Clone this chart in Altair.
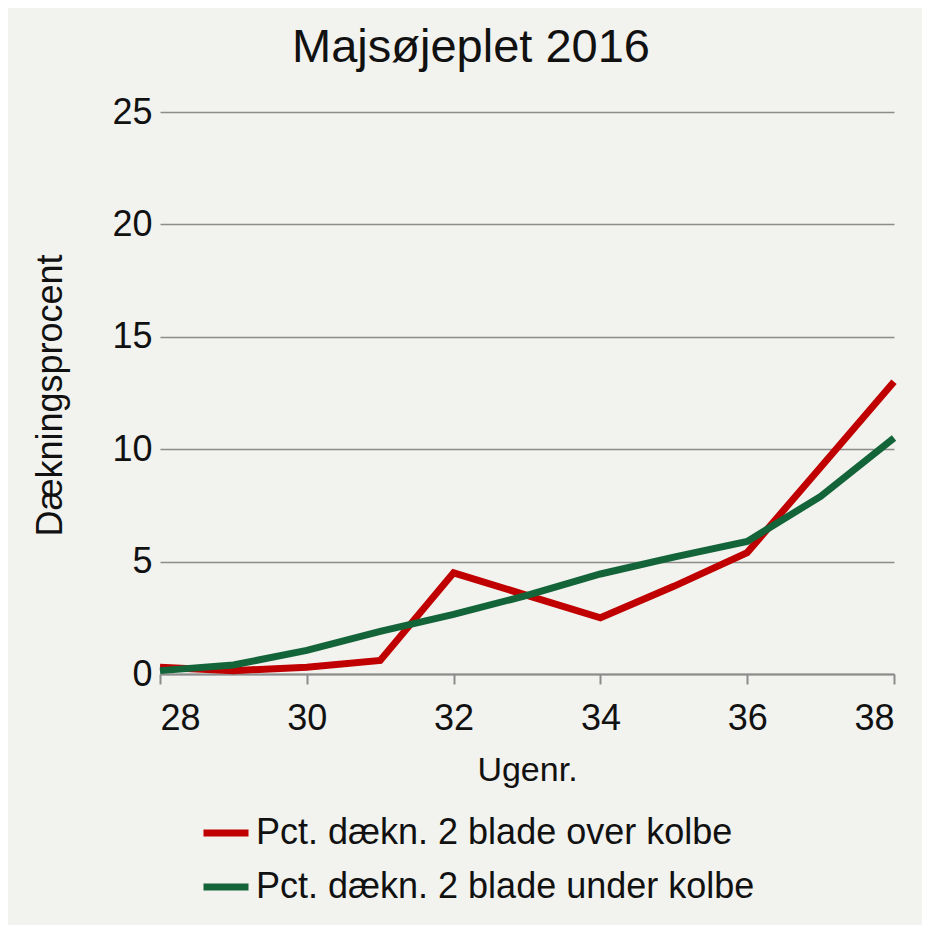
import altair as alt
import pandas as pd

weeks = [28, 29, 30, 31, 32, 33, 34, 35, 36, 37, 38]
over_kolbe = [0.3, 0.15, 0.3, 0.6, 4.5, 3.5, 2.5, 3.9, 5.4, 9.2, 13.0]
under_kolbe = [0.15, 0.4, 1.05, 1.9, 2.65, 3.5, 4.45, 5.2, 5.9, 7.9, 10.5]
series_names = ["Pct. dækn. 2 blade over kolbe", "Pct. dækn. 2 blade under kolbe"]
series_colors = ["#c00000", "#14643a"]
x_ticks = [28, 30, 32, 34, 36, 38]
y_ticks = [0, 5, 10, 15, 20, 25]

rows = []
for w, v in zip(weeks, over_kolbe):
    rows.append({"Uge": w, "Pct": v, "Serie": series_names[0]})
for w, v in zip(weeks, under_kolbe):
    rows.append({"Uge": w, "Pct": v, "Serie": series_names[1]})
df = pd.DataFrame(rows)

FONT = "Liberation Sans"

chart = alt.Chart(df).mark_line(strokeWidth=7, strokeJoin="miter", strokeCap="butt").encode(
    x=alt.X("Uge:Q", scale=alt.Scale(domain=[28, 38], nice=False, zero=False),
            axis=alt.Axis(values=x_ticks, title="Ugenr.", grid=False, domainColor="#8c8c8c",
                          domainWidth=2, tickColor="#8c8c8c", tickWidth=2, tickSize=10,
                          labelFontSize=36, labelPadding=17, labelColor="#111111",
                          titleFontSize=34, titleFontWeight="normal", titleColor="#111111",
                          titleY=106, titleBaseline="alphabetic")),
    y=alt.Y("Pct:Q", scale=alt.Scale(domain=[0, 25], nice=False),
            axis=alt.Axis(values=y_ticks, title="Dækningsprocent", grid=True, gridColor="#8c8c8c",
                          gridWidth=1.5, domain=False, ticks=False,
                          labelFontSize=36, labelPadding=8, labelColor="#111111",
                          titleFontSize=36, titleFontWeight="normal", titleColor="#111111",
                          titleX=-110, titleY=283, titleAlign="center", titleBaseline="middle")),
    color=alt.Color("Serie:N", scale=alt.Scale(domain=series_names, range=series_colors),
                    legend=alt.Legend(title=None, orient="none", legendX=40, legendY=695,
                                      symbolType="stroke", symbolSize=2025, symbolStrokeWidth=7,
                                      labelFontSize=36, labelColor="#111111", labelOffset=4,
                                      rowPadding=10, labelLimit=800)),
).properties(
    width=734,
    height=562,
    title=alt.TitleParams("Majsøjeplet 2016", fontSize=47, fontWeight="normal", color="#111111",
                          dx=-56, offset=22, anchor="middle"),
    autosize=alt.AutoSizeParams(type="none"),
    padding={"left": 152, "top": 104, "right": 28, "bottom": 251},
).configure(
    background="#f2f2ee",
    font=FONT,
).configure_view(stroke=None)

chart.save("out.html", embed_options={"renderer": "svg", "actions": False})
